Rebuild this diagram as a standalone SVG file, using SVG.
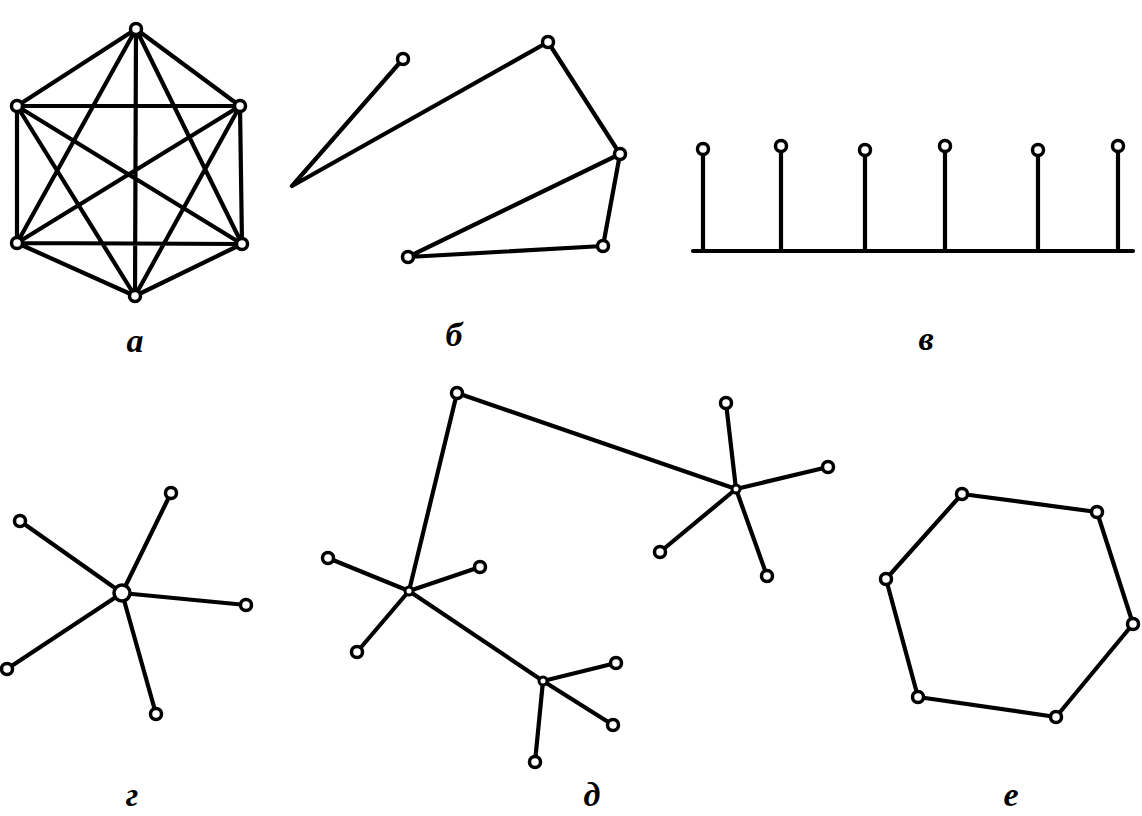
<svg xmlns="http://www.w3.org/2000/svg" width="1142" height="816" viewBox="0 0 1142 816">
<style>
.e{stroke:#000;stroke-width:4.2;fill:none;stroke-linecap:round;stroke-linejoin:round}
.n{fill:#fff;stroke:#000;stroke-width:3.5}
.h{fill:#fff;stroke:#000;stroke-width:3}
.l{font-family:"Liberation Serif","DejaVu Serif",serif;font-weight:bold;font-style:italic;font-size:34px;text-anchor:middle;fill:#000}
</style>
<rect width="1142" height="816" fill="#fff"/>
<g id="connectors">
<path class="e" d="M136,29L17,106M136,29L240,106M136,29L17,243M136,29L242,244M136,29L135,296
M17,106L240,106M17,106L17,243M17,106L242,244M17,106L135,296
M240,106L17,243M240,106L242,244M240,106L135,296
M17,243L242,244M17,243L135,296M242,244L135,296"/>
<path class="e" d="M403,59L292,186L548,42L620,154L408,257L603,246L620,154"/>
<path class="e" d="M693,251H1133M703,149V251M781,146V251M865,150V251M945,146V251M1038,150V251M1118,146V251"/>
<path class="e" d="M122,593L20,521M122,593L171,493M122,593L246,605M122,593L156,714M122,593L7,669"/>
<path class="e" d="M409,591L457,393L736,489M409,591L328,558M409,591L480,567M409,591L357,652M409,591L543,681
M543,681L616,663M543,681L613,725M543,681L535,762
M736,489L726,403M736,489L828,467M736,489L660,552M736,489L767,576"/>
<path class="e" d="M962,494L1097,512L1133,624L1056,717L918,697L886,579Z"/>
</g>
<g id="graph-a">
<circle class="n" cx="136" cy="29" r="5.5"/>
<circle class="n" cx="17" cy="106" r="5.5"/>
<circle class="n" cx="240" cy="106" r="5.5"/>
<circle class="n" cx="17" cy="243" r="5.5"/>
<circle class="n" cx="242" cy="244" r="5.5"/>
<circle class="n" cx="135" cy="296" r="5.5"/>
</g>
<g id="graph-b">
<circle class="n" cx="403" cy="59" r="5.5"/>
<circle class="n" cx="548" cy="42" r="5.5"/>
<circle class="n" cx="620" cy="154" r="5.5"/>
<circle class="n" cx="603" cy="246" r="5.5"/>
<circle class="n" cx="408" cy="257" r="5.5"/>
</g>
<g id="graph-v">
<circle class="n" cx="703" cy="149" r="5.5"/>
<circle class="n" cx="781" cy="146" r="5.5"/>
<circle class="n" cx="865" cy="150" r="5.5"/>
<circle class="n" cx="945" cy="146" r="5.5"/>
<circle class="n" cx="1038" cy="150" r="5.5"/>
<circle class="n" cx="1118" cy="146" r="5.5"/>
</g>
<g id="graph-g">
<circle class="n" cx="122" cy="593" r="8"/>
<circle class="n" cx="20" cy="521" r="5.5"/>
<circle class="n" cx="171" cy="493" r="5.5"/>
<circle class="n" cx="246" cy="605" r="5.5"/>
<circle class="n" cx="156" cy="714" r="5.5"/>
<circle class="n" cx="7" cy="669" r="5.5"/>
</g>
<g id="graph-d">
<circle class="n" cx="457" cy="393" r="5.5"/>
<circle class="h" cx="409" cy="591" r="4"/>
<circle class="n" cx="328" cy="558" r="5.5"/>
<circle class="n" cx="480" cy="567" r="5.5"/>
<circle class="n" cx="357" cy="652" r="5.5"/>
<circle class="h" cx="543" cy="681" r="4"/>
<circle class="n" cx="616" cy="663" r="5.5"/>
<circle class="n" cx="613" cy="725" r="5.5"/>
<circle class="n" cx="535" cy="762" r="5.5"/>
<circle class="h" cx="736" cy="489" r="4"/>
<circle class="n" cx="726" cy="403" r="5.5"/>
<circle class="n" cx="828" cy="467" r="5.5"/>
<circle class="n" cx="660" cy="552" r="5.5"/>
<circle class="n" cx="767" cy="576" r="5.5"/>
</g>
<g id="graph-e">
<circle class="n" cx="962" cy="494" r="5.5"/>
<circle class="n" cx="1097" cy="512" r="5.5"/>
<circle class="n" cx="1133" cy="624" r="5.5"/>
<circle class="n" cx="1056" cy="717" r="5.5"/>
<circle class="n" cx="918" cy="697" r="5.5"/>
<circle class="n" cx="886" cy="579" r="5.5"/>
</g>
<g id="labels">
<text class="l" x="135" y="352">а</text>
<text class="l" x="454" y="346">б</text>
<text class="l" x="926" y="350">в</text>
<text class="l" x="132" y="806">г</text>
<text class="l" x="592" y="806">д</text>
<text class="l" x="1011" y="806">е</text>
</g>
</svg>
